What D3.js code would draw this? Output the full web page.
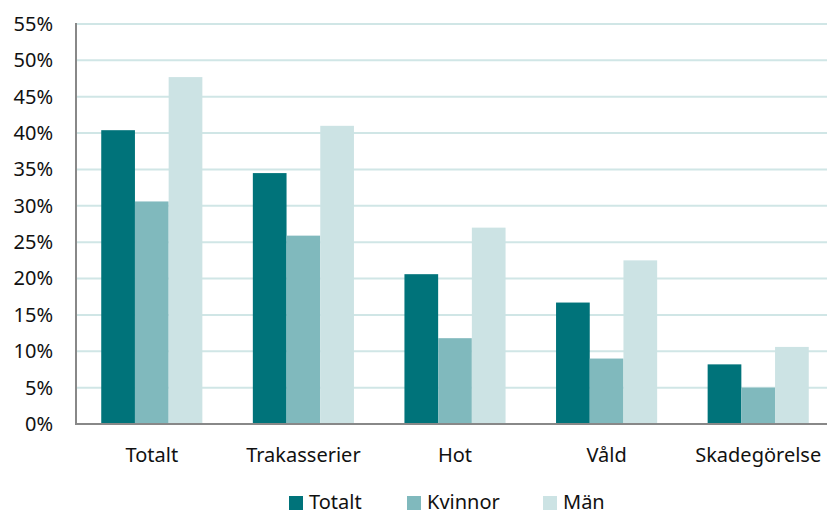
<!DOCTYPE html>
<html><head><meta charset="utf-8">
<script src="https://cdn.jsdelivr.net/npm/d3@7"></script>
<style>body{margin:0;background:#fff}svg{display:block}text{font-family:"Noto Sans",sans-serif;fill:#111}</style>
</head><body><svg id="c" width="827" height="514"></svg>
<script>
const categories = ["Totalt","Trakasserier","Hot","Våld","Skadegörelse"];
const seriesNames = ["Totalt","Kvinnor","Män"];
const totalt = [40.4, 34.5, 20.6, 16.7, 8.2];
const kvinnor = [30.6, 25.9, 11.8, 9.0, 5.0];
const man = [47.7, 41.0, 27.0, 22.5, 10.6];
const yTicks = [0,5,10,15,20,25,30,35,40,45,50,55];
const colors = ["#00737A","#80B9BD","#CCE3E4"];
const series = [totalt, kvinnor, man];

(function(){
const svg = d3.select("#c");
const mLeft = 76, mBottom = 424, mTop = 24, mRight = 834;
const y = d3.scaleLinear().domain([0,55]).range([mBottom, mTop]);
const x = d3.scaleBand().domain(categories).range([mLeft, mRight]).paddingInner(0).paddingOuter(0);
const bw = x.bandwidth();
const inner = d3.scaleBand().domain(seriesNames).range([bw*0.1665, bw*0.8335]).padding(0);

// grid
svg.append("g").selectAll("line").data(yTicks.filter(d=>d>0)).join("line")
  .attr("x1", mLeft).attr("x2", mRight).attr("y1", d=>y(d)).attr("y2", d=>y(d))
  .attr("stroke", "#D0E6E6").attr("stroke-width", 2);

// y labels
const yAxis = d3.axisLeft(y).tickValues(yTicks).tickFormat(d=>d+"%").tickSize(0).tickPadding(23);
const ga = svg.append("g").attr("transform", `translate(${mLeft},0)`).call(yAxis);
ga.select(".domain").remove();
ga.selectAll("text").style("font-size","20px").style("font-family","'Noto Sans',sans-serif").attr("fill","#111");

// bars
categories.forEach((c,i)=>{
  const g = svg.append("g").attr("transform", `translate(${x(c)},0)`);
  g.selectAll("rect").data(series.map((s,k)=>({k, v:s[i]}))).join("rect")
    .attr("x", d=>inner(seriesNames[d.k])).attr("width", inner.bandwidth())
    .attr("y", d=>y(d.v)).attr("height", d=>mBottom - y(d.v))
    .attr("fill", d=>colors[d.k]);
});

// axes lines
svg.append("line").attr("x1", mLeft).attr("x2", mLeft).attr("y1", mTop-1).attr("y2", mBottom+1)
  .attr("stroke","#888").attr("stroke-width",2);
svg.append("line").attr("x1", mLeft).attr("x2", mRight).attr("y1", mBottom).attr("y2", mBottom)
  .attr("stroke","#888").attr("stroke-width",2);

// category labels
svg.append("g").selectAll("text").data(categories).join("text")
  .attr("x", d=>x(d)+bw/2).attr("y", 462).attr("text-anchor","middle")
  .style("font-size","20px").text(d=>d);

// legend
const legX = [289, 407, 543];
const lg = svg.append("g");
seriesNames.forEach((n,k)=>{
  lg.append("rect").attr("x", legX[k]).attr("y", 496).attr("width", 14).attr("height", 14).attr("fill", colors[k]);
  lg.append("text").attr("x", legX[k]+20).attr("y", 509).style("font-size","20px").text(n);
});
})();
</script></body></html>
